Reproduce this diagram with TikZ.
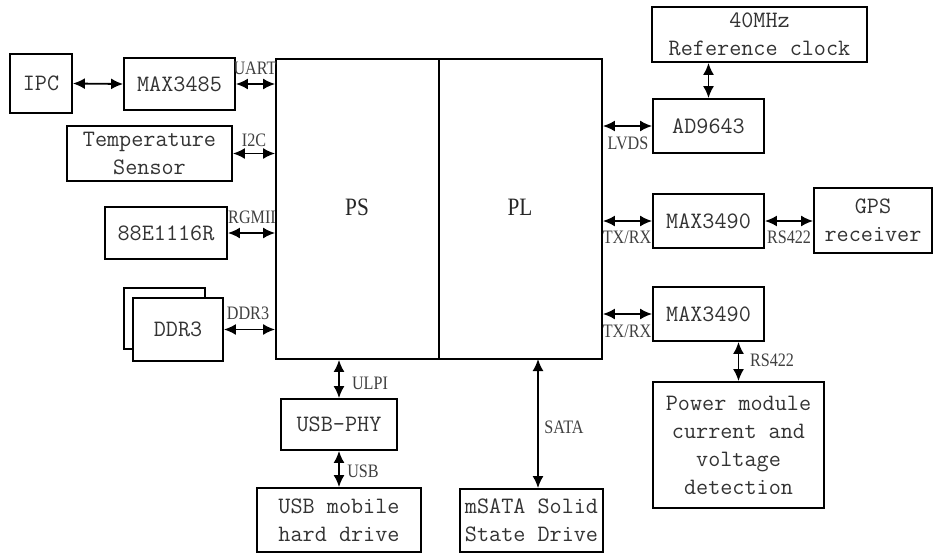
\documentclass[tikz,border=0pt]{standalone}
\usepackage{fontspec}
\usetikzlibrary{arrows.meta}
\newfontfamily\lblfont[FakeStretch=0.85]{Liberation Serif}
\tikzset{
  box/.style={draw, line width=1.8pt, fill=white, inner sep=0pt, align=center,
    font=\ttfamily\fontsize{23.5}{28}\selectfont, text=black!80},
  lbl/.style={font=\lblfont\fontsize{19}{22}\selectfont, text=black!75, inner sep=0pt},
  big/.style={font=\lblfont\fontsize{25}{28}\selectfont, text=black!85},
  link/.style={line width=1.8pt, {Latex[length=12pt,width=11pt]}-{Latex[length=12pt,width=11pt]}},
}
\begin{document}
\begin{tikzpicture}[x=1pt,y=-1pt]
\useasboundingbox (0,0) rectangle (933,554);
% main block
\node[box, minimum width=163pt, minimum height=300pt] (ps) at (357.5,209) {};
\node[box, minimum width=163pt, minimum height=300pt] (pl) at (520.5,209) {};
\node[big] (pst) at (357,207) {PS};
\node[big] (plt) at (520,207) {PL};
% left side
\node[box, minimum width=62pt, minimum height=59pt] (ipc) at (41,83.5) {IPC};
\node[box, minimum width=111pt, minimum height=52pt] (m3485) at (179.5,84) {MAX3485};
\node[box, minimum width=165pt, minimum height=55pt] (temp) at (149.5,153.5) {Temperature\\Sensor};
\node[box, minimum width=122pt, minimum height=52pt] (phy) at (166,233) {88E1116R};
\node[box, minimum width=81pt, minimum height=61pt] (ddrb) at (164.5,318.5) {};
\node[box, minimum width=90pt, minimum height=63pt] (ddr) at (178,329.5) {DDR3};
% bottom
\node[box, minimum width=116pt, minimum height=51pt] (usbphy) at (339,424.5) {USB-PHY};
\node[box, minimum width=164pt, minimum height=64pt] (usbhd) at (339,520) {USB mobile\\hard drive};
\node[box, minimum width=143pt, minimum height=63pt] (msata) at (531.5,520.5) {mSATA Solid\\State Drive};
% right side
\node[box, minimum width=215pt, minimum height=55pt] (clk) at (759.5,34.5) {40MHz\\Reference clock};
\node[box, minimum width=111pt, minimum height=54pt] (adc) at (708.5,126) {AD9643};
\node[box, minimum width=111pt, minimum height=54pt] (m3490a) at (708.5,221) {MAX3490};
\node[box, minimum width=118pt, minimum height=65pt] (gps) at (873,220.5) {GPS\\receiver};
\node[box, minimum width=111pt, minimum height=54pt] (m3490b) at (708.5,314) {MAX3490};
\node[box, minimum width=171pt, minimum height=126pt] (pwr) at (738.5,445) {Power module\\current and\\voltage\\detection};
% connectors
\draw[link] (ipc.east) -- (m3485.west);
\draw[link] (m3485.east) -- (m3485.east -| ps.west);
\draw[link] (temp.east) -- (temp.east -| ps.west);
\draw[link] (phy.east) -- (phy.east -| ps.west);
\draw[link] (ddr.east) -- (ddr.east -| ps.west);
\draw[link] (ps.south -| usbphy.north) -- (usbphy.north);
\draw[link] (usbphy.south) -- (usbphy.south |- usbhd.north);
\coordinate (sataTop) at (538,359);
\draw[link] (sataTop) -- (sataTop |- msata.north);
\draw[link] (clk.south -| adc.north) -- (adc.north);
\draw[link] (adc.west -| pl.east) -- (adc.west);
\draw[link] (m3490a.west -| pl.east) -- (m3490a.west);
\draw[link] (m3490a.east) -- (m3490a.east -| gps.west);
\draw[link] (m3490b.west -| pl.east) -- (m3490b.west);
\draw[link] (m3490b.south -| pwr.north) -- (pwr.north);
% labels
\node[lbl] (l1) at (255,68) {UART};
\node[lbl] (l2) at (254,140) {I2C};
\node[lbl] (l3) at (252,217) {RGMII};
\node[lbl] (l4) at (248,313) {DDR3};
\node[lbl] (l5) at (370,383) {ULPI};
\node[lbl] (l6) at (363,471) {USB};
\node[lbl] (l7) at (564,427) {SATA};
\node[lbl] (l8) at (628,143) {LVDS};
\node[lbl] (l9) at (627,237) {TX/RX};
\node[lbl] (l10) at (789,237) {RS422};
\node[lbl] (l11) at (627,331) {TX/RX};
\node[lbl] (l12) at (772,360) {RS422};
\end{tikzpicture}
\end{document}
